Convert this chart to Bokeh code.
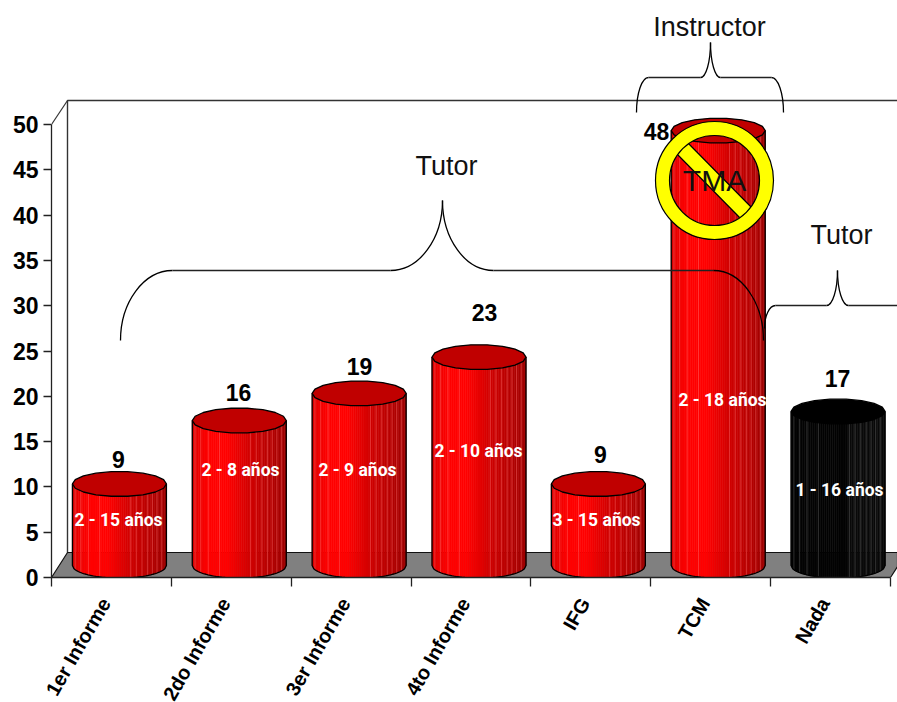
import math
from bokeh.plotting import figure
from bokeh.models import Range1d, FixedTicker, LinearAxis
from bokeh.core.properties import value
from bokeh.embed import file_html
from bokeh.resources import INLINE

categories = ["1er Informe", "2do Informe", "3er Informe", "4to Informe", "IFG", "TCM", "Nada"]
counts = [9, 16, 19, 23, 9, 48, 17]
spans = ["2 - 15 años", "2 - 8 años", "2 - 9 años", "2 - 10 años", "3 - 15 años", "2 - 18 años", "1 - 16 años"]
y_ticks = [0, 5, 10, 15, 20, 25, 30, 35, 40, 45, 50]
bar_colors = ["red", "red", "red", "red", "red", "red", "black"]

# label placement, in page pixels
count_label_xy = [(118, 459), (238, 392), (359, 366), (484, 312), (600, 454), (656, 131), (837, 378)]
span_label_xy = [(118, 519), (240, 469), (357, 469), (478, 450), (596, 519), (722, 399), (839, 489)]

LEFT, BASE, UNIT_X, UNIT_Y = 51.0, 577.0, 119.86, 9.06
W, H = 897, 702


def X(px):
    return (px - LEFT) / UNIT_X


def Y(py):
    return (BASE - py) / UNIT_Y


p = figure(width=W, height=H, output_backend="svg", toolbar_location=None,
           x_range=Range1d(0, X(W)), y_range=Range1d(0, Y(0)),
           x_axis_type=None, y_axis_type=None, min_border_left=int(LEFT), min_border_right=0,
           min_border_top=0, min_border_bottom=H - int(BASE),
           frame_width=W - int(LEFT), frame_height=int(BASE))
p.grid.visible = False
p.outline_line_color = None
p.background_fill_color = "white"

FONT = "Liberation Sans"
yax = LinearAxis(ticker=FixedTicker(ticks=y_ticks), bounds=(0, 50))
yax.axis_line_color = "#222222"
yax.axis_line_width = 1.3
yax.major_tick_out = 8
yax.major_tick_in = 0
yax.major_tick_line_color = "#222222"
yax.major_tick_line_width = 1.3
yax.minor_tick_line_color = None
yax.major_label_text_font = FONT
yax.major_label_text_font_style = "bold"
yax.major_label_text_font_size = "23px"
yax.major_label_text_color = "black"
yax.major_label_standoff = 5
p.add_layout(yax, "left")

centres = [i + 0.45 for i in range(len(categories))]
xax = LinearAxis(ticker=FixedTicker(ticks=centres, minor_ticks=list(range(len(categories) + 1))),
                 bounds=(0, len(categories)))
xax.major_label_overrides = {c: n for c, n in zip(centres, categories)}
xax.axis_line_color = "#222222"
xax.axis_line_width = 1.3
xax.major_tick_out = 0
xax.major_tick_in = 0
xax.major_tick_line_color = None
xax.minor_tick_out = 9
xax.minor_tick_in = 0
xax.minor_tick_line_color = "#222222"
xax.minor_tick_line_width = 1.3
xax.major_label_orientation = math.radians(60)
xax.major_label_text_font = FONT
xax.major_label_text_font_style = "bold"
xax.major_label_text_font_size = "20px"
xax.major_label_text_color = "black"
xax.major_label_standoff = 13
p.add_layout(xax, "below")


def pline(pts, color="#333333", width=1.3):
    p.line([X(a) for a, _ in pts], [Y(b) for _, b in pts], line_color=color, line_width=width)


# walls and floor
pline([(67, 552), (67, 100), (W, 100)], "#333333", 1.4)
pline([(51, 124), (67, 100)], "#333333", 1.2)
floor = [(51, 577), (67, 552), (W, 552), (W, 566), (890, 577)]
p.patch([X(a) for a, _ in floor], [Y(b) for _, b in floor],
        fill_color="#808080", line_color="#111111", line_width=1.2)

# cylinders
HALF_W, HALF_H, FLOOR_Y = 47.0, 12.5, 565.0
BAR_OFFSET = 8.0
N = 48
STRIPE_T = [0.03, 0.09, 0.17, 0.29, 0.62, 0.68, 0.74, 0.8, 0.85, 0.9, 0.95]


def ramp(t, kind):
    if kind == "black":
        v = 4 if t < 0.6 else 10
        return "#%02x%02x%02x" % (v, v, v)
    stops = [(0, 0xD8), (0.08, 0xF0), (0.18, 0xFF), (0.38, 0xFF), (0.62, 0xD0), (0.82, 0xBA), (1, 0x9E)]
    for (a, va), (b, vb) in zip(stops, stops[1:]):
        if a <= t <= b:
            return "#%02x0000" % int(va + (vb - va) * (t - a) / (b - a))
    return "#a00000"


def front(cx, cy, px):
    u = max(-1.0, min(1.0, (px - cx) / HALF_W))
    return cy + HALF_H * math.sqrt(1 - u * u)


for i, (v, kind) in enumerate(zip(counts, bar_colors)):
    cx = LEFT + (i + 0.5) * UNIT_X + BAR_OFFSET - (0 if i < 4 else 0.5)
    top_y = FLOOR_Y - v * UNIT_Y
    xs, ys, cols = [], [], []
    for k in range(N):
        a = cx - HALF_W + 2 * HALF_W * k / N
        b = cx - HALF_W + 2 * HALF_W * (k + 1) / N
        poly = [(a, top_y), (b, top_y), (b, front(cx, FLOOR_Y, b)), (a, front(cx, FLOOR_Y, a))]
        xs.append([X(q) for q, _ in poly])
        ys.append([Y(q) for _, q in poly])
        cols.append(ramp((k + 0.5) / N, kind))
    p.patches(xs, ys, fill_color=cols, line_color=cols, line_width=0.6)
    # faint facet lines on the shaft
    sx, sy = [], []
    for t in STRIPE_T:
        q = cx - HALF_W + 2 * HALF_W * t
        sx.append([X(q), X(q)])
        sy.append([Y(top_y), Y(front(cx, FLOOR_Y, q))])
    if kind == "red":
        p.multi_line(sx, sy, line_color="#ff7070", line_width=0.7, line_alpha=0.6)
    else:
        p.multi_line(sx, sy, line_color="#5a5a5a", line_width=0.7, line_alpha=0.7)
    # outline of the shaft
    arc = [(cx - HALF_W + 2 * HALF_W * k / 60) for k in range(61)]
    out = [(cx - HALF_W, top_y)] + [(q, front(cx, FLOOR_Y, q)) for q in arc] + [(cx + HALF_W, top_y)]
    pline(out, "black", 1.3)
    # lid
    lid = [(cx + HALF_W * math.cos(2 * math.pi * k / 18), top_y + HALF_H * math.sin(2 * math.pi * k / 18))
           for k in range(18)]
    p.patch([X(q) for q, _ in lid], [Y(q) for _, q in lid],
            fill_color="#c00000" if kind == "red" else "black", line_color="black", line_width=1.3)

# labels
p.text([X(a) for a, _ in count_label_xy], [Y(b) for _, b in count_label_xy], text=[str(c) for c in counts],
       text_font=value(FONT), text_font_style="bold", text_font_size="23px", text_color="black",
       text_align="center", text_baseline="middle")
p.text([X(a) for a, _ in span_label_xy], [Y(b) for _, b in span_label_xy], text=spans,
       text_font=value("Roboto"), text_font_style="bold", text_font_size="17.5px",
       text_color="white", text_align="center", text_baseline="middle")


def curve(a, b, vertical_first):
    (x0, y0), (x1, y1) = a, b
    if vertical_first:
        c0, c1 = (x0, y0 + (y1 - y0) * 0.55), (x1 - (x1 - x0) * 0.55, y1)
    else:
        c0, c1 = (x0 + (x1 - x0) * 0.55, y0), (x1, y1 - (y1 - y0) * 0.55)
    p.bezier(x0=[X(x0)], y0=[Y(y0)], x1=[X(x1)], y1=[Y(y1)], cx0=[X(c0[0])], cy0=[Y(c0[1])],
             cx1=[X(c1[0])], cy1=[Y(c1[1])], line_color="black", line_width=1.3)


def brace(x_start, x_a, x_tip_l, x_tip, x_tip_r, x_b, x_end, y_end, y_flat, y_tip, close_right=True):
    curve((x_start, y_end), (x_a, y_flat), True)
    pline([(x_a, y_flat), (x_tip_l, y_flat)], "#222222", 1.3)
    curve((x_tip_l, y_flat), (x_tip, y_tip), False)
    curve((x_tip_r, y_flat), (x_tip, y_tip), False)
    pline([(x_tip_r, y_flat), (x_b, y_flat)], "#222222", 1.3)
    if close_right:
        curve((x_end, y_end), (x_b, y_flat), True)


brace(120, 172, 390, 442, 493, 713, 763, 340, 270, 200)
brace(764, 775, 826, 837, 848, W, W, 328, 305, 270, close_right=False)
brace(636, 648, 700, 710, 720, 771, 783, 112, 77, 42)

# no-entry sign over the TCM bar
cxs, cys = 714.0, 180.0
band = [(675, 152), (686, 141), (754, 210), (743, 221)]
p.patch([X(a) for a, _ in band], [Y(b) for _, b in band], fill_color="#ffff00", line_color="black", line_width=1.2)
p.annulus([X(cxs)], [Y(cys)], inner_radius=45, outer_radius=59,
          inner_radius_units="screen", outer_radius_units="screen",
          fill_color="#ffff00", line_color="black", line_width=1.2)

# annotation words
notes = ["Instructor", "Tutor", "Tutor", "TMA"]
note_x = [709, 446, 841, 714]
note_y = [26, 165, 234, 180]
note_sizes = ["27px", "27px", "27px", "30px"]
p.text([X(a) for a in note_x], [Y(b) for b in note_y], text=notes, text_font=value(FONT),
       text_font_size=note_sizes, text_color="#111111", text_align="center", text_baseline="middle")

open("out.html", "w").write(file_html(p, INLINE))
